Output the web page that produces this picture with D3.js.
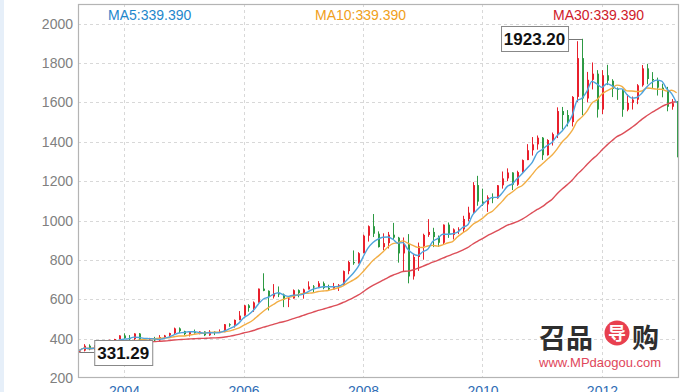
<!DOCTYPE html>
<html><head><meta charset="utf-8">
<script src="https://cdn.jsdelivr.net/npm/d3@7/dist/d3.min.js"></script>
<style>html,body{margin:0;padding:0;background:#fff;overflow:hidden}svg{display:block}</style>
</head><body>
<script>
// Monthly gold candles, Apr 2003 .. Apr 2013
const startMonth = "2003-04";
const opens = [336,339.4,364,346,354,375,384,386,398,
416,402,397,426,388,394,396,391,408,416,428,452,
438,423,435,428,436,417,435,430,433,473,470,495,
517,569,556,584,654,643,614,632,624,599,604,646,
632,650,665,663,681,657,650,666,673,743,789,783,
834,923,971,933,865,885,928,913,833,880,716,815,
869,927,942,916,887,979,927,955,955,1008,1040,1180,
1096,1082,1118,1113,1179,1214,1244,1182,1246,1307,1357,1387,
1421,1332,1409,1439,1556,1536,1500,1628,1825,1620,1715,1746,
1564,1738,1710,1669,1664,1563,1598,1614,1687,1773,1719,1712,
1675,1663,1578,1596];
const highs = [341,372,371,367,378,391,395,399,417,
427,418,427,428,396,404,409,418,419,430,456,457,
440,438,446,437,437,443,437,447,474,478,497,540,
571,575,589,654,732,645,677,665,629,608,650,650,
654,691,672,692,690,674,683,677,746,795,848,839,
928,975,1033,945,935,942,988,917,914,931,829,888,
933,1007,963,924,980,990,960,966,1024,1070,1195,1227,
1162,1128,1138,1180,1249,1265,1245,1253,1310,1388,1424,1432,
1424,1413,1447,1575,1577,1561,1632,1911,1923.2,1755,1803,1764,
1764,1791,1718,1676,1667,1641,1630,1693,1790,1796,1754,1726,
1695,1679,1617,1607];
const lows = [331.29,335,341,342,345,368,367,378,396,
399,391,391,382,371,385,385,387,398,411,423,428,
418,411,425,422,413,414,418,430,433,460,456,493,
516,537,536,583,641,543,604,611,560,560,604,610,
603,650,636,662,651,642,650,642,672,727,775,781,
834,893,916,863,850,858,903,786,740,681,700,744,
801,917,865,866,880,912,904,931,937,996,1033,1075,
1074,1044,1088,1111,1162,1200,1155,1176,1243,1307,1330,1360,
1308,1330,1381,1419,1462,1478,1478,1602,1535,1600,1666,1523,
1541,1688,1627,1613,1527,1555,1564,1591,1680,1692,1672,1635,
1626,1555,1563,1321];
const closes = [339.39,364,346,354,375,384,386,398,416,
402,397,426,388,394,396,391,408,416,428,452,438,
423,435,428,436,417,435,430,433,473,470,495,517,
569,556,584,654,643,614,632,624,599,604,646,632,
650,665,663,681,657,650,666,673,743,789,783,834,
923,971,933,865,885,928,913,833,880,716,815,869,
927,942,916,887,979,927,955,955,1008,1040,1180,1096,
1082,1118,1113,1179,1214,1244,1182,1246,1307,1357,1387,1421,
1332,1409,1439,1556,1536,1500,1628,1825,1620,1715,1746,1564,
1738,1710,1669,1664,1563,1598,1614,1687,1773,1719,1712,1675,
1663,1578,1596,1472];
const yTicks = [200,400,600,800,1000,1200,1400,1600,1800,2000];
const xTickLabels = ["2004","2006","2008","2010","2012"];
const maPeriods = [5,10,30];
const maNames = ["MA5","MA10","MA30"];
const maxLabel = "1923.20", minLabel = "331.29";

const W=686,H=392, L=78, T=4, R=679, B=378;
const n = closes.length;
const parse = d3.timeParse("%Y-%m");
const months = d3.range(n).map(i => d3.timeMonth.offset(parse(startMonth), i));
const x = d3.scaleLinear().domain([-0.25, 120.48]).range([L, R]);
const y = d3.scaleLinear().domain([200, 2100]).range([B, T]);

const svg = d3.select("body").append("svg").attr("width",W).attr("height",H);
svg.append("rect").attr("x",0).attr("y",0).attr("width",4).attr("height",H).attr("fill","#e6eff9");

// grid
const g = svg.append("g");
g.selectAll(".hg").data(yTicks.filter(v=>v>200)).join("line")
  .attr("x1",L).attr("x2",R).attr("y1",d=>Math.round(y(d))+0.5).attr("y2",d=>Math.round(y(d))+0.5)
  .attr("stroke","#d8d8d8").attr("stroke-dasharray","3,3");
const xTickIdx = xTickLabels.map(lbl => months.findIndex(m => m.getFullYear()==+lbl && m.getMonth()==0));
g.selectAll(".vg").data(xTickIdx).join("line")
  .attr("x1",d=>Math.round(x(d))+0.5).attr("x2",d=>Math.round(x(d))+0.5).attr("y1",T).attr("y2",B)
  .attr("stroke","#d8d8d8").attr("stroke-dasharray","3,3");

// axes
const yAxis = d3.axisLeft(y).tickValues(yTicks).tickFormat(d3.format("d")).tickSize(0).tickPadding(5);
const ya = svg.append("g").attr("transform",`translate(${L},0)`).call(yAxis);
ya.select(".domain").remove();
ya.selectAll("text").attr("fill","#808080").style("font","14px 'Liberation Sans', Arial, sans-serif");
const xAxis = d3.axisBottom(x).tickValues(xTickIdx).tickFormat((d,i)=>xTickLabels[i]).tickSize(0).tickPadding(6);
const xa = svg.append("g").attr("transform",`translate(0,${B})`).call(xAxis);
xa.select(".domain").remove();
xa.selectAll("text").attr("fill","#2f6db5").attr("dy","0.85em").style("font","14px 'Liberation Sans', Arial, sans-serif");

// watermark
const wm = svg.append("g");
wm.append("text").attr("x",539).attr("y",348).text("召品").attr("fill","#2e2e2e")
  .style("font","bold 27px 'Noto Sans CJK SC'");
wm.append("circle").attr("cx",617).attr("cy",333).attr("r",12.5).attr("fill","#e8404f");
wm.append("text").attr("x",617).attr("y",340).attr("text-anchor","middle").text("导").attr("fill","#fff")
  .style("font","bold 18px 'Noto Sans CJK SC'");
wm.append("text").attr("x",632).attr("y",348).text("购").attr("fill","#2e2e2e")
  .style("font","bold 27px 'Noto Sans CJK SC'");
wm.append("text").attr("x",539).attr("y",367).text("www.MPdaogou.com").attr("fill","#e0465a")
  .style("font","13px 'Liberation Sans', Arial, sans-serif");

// moving averages
const maColors = ["#4fa3dc","#f2ae45","#dc4e58"];
const maData = maPeriods.map(p => closes.map((c,i)=> d3.mean(closes.slice(Math.max(0,i-p+1), i+1))));
const line = d3.line().x((d,i)=>x(i)).y(d=>y(d)).curve(d3.curveMonotoneX);

// candles
const cg = svg.append("g");
d3.range(n).forEach(i=>{
  const up = closes[i] >= opens[i];
  const col = up ? "#e8202c" : "#2d9a43";
  const cx = Math.round(x(i));
  cg.append("line").attr("x1",cx+0.5).attr("x2",cx+0.5).attr("y1",y(highs[i])).attr("y2",y(lows[i]))
    .attr("stroke",col).attr("stroke-width",1);
  const y0 = y(Math.max(opens[i],closes[i])), y1 = y(Math.min(opens[i],closes[i]));
  cg.append("rect").attr("x",cx).attr("width",2).attr("y",y0).attr("height",Math.max(1,y1-y0)).attr("fill",col);
});

[2,1,0].forEach(k=>{
  svg.append("path").datum(maData[k]).attr("d",line).attr("fill","none")
    .attr("stroke",maColors[k]).attr("stroke-width",1.4);
});

// frame
svg.append("rect").attr("x",L+0.5).attr("y",T+0.5).attr("width",R-L-1).attr("height",B-T-1)
  .attr("fill","none").attr("stroke","#b4b4b4").attr("stroke-width",1.2);

// MA labels
const maLabelX = [108,315,553];
const maTextColors = ["#1f87cc","#f0a020","#d0202a"];
maNames.forEach((nm,k)=>{
  svg.append("text").attr("x",maLabelX[k]).attr("y",20).text(nm+":"+closes[0].toFixed(3))
    .attr("fill",maTextColors[k]).style("font","14px 'Liberation Sans', Arial, sans-serif");
});

// annotations
const iMax = d3.maxIndex(highs), iMin = d3.minIndex(lows);
const ym = y(highs[iMax]);
svg.append("line").attr("x1",x(iMax)).attr("x2",x(iMax)-14).attr("y1",Math.round(ym)+0.5).attr("y2",Math.round(ym)+0.5).attr("stroke","#777");
svg.append("rect").attr("x",x(iMax)-14-67+0.5).attr("y",Math.round(ym)-12.5).attr("width",67).attr("height",25)
  .attr("fill","#fff").attr("stroke","#888");
svg.append("text").attr("x",x(iMax)-14-33.5).attr("y",ym+6).attr("text-anchor","middle").text(maxLabel)
  .style("font","bold 17px 'Liberation Sans', Arial, sans-serif").attr("fill","#111");
const yn = y(lows[iMin]);
svg.append("line").attr("x1",x(iMin)).attr("x2",x(iMin)+15).attr("y1",Math.round(yn)+0.5).attr("y2",Math.round(yn)+0.5).attr("stroke","#777");
svg.append("rect").attr("x",x(iMin)+15+0.5).attr("y",Math.round(yn)-11.5).attr("width",58).attr("height",25)
  .attr("fill","#fff").attr("stroke","#888");
svg.append("text").attr("x",x(iMin)+15+29).attr("y",yn+7).attr("text-anchor","middle").text(minLabel)
  .style("font","bold 17px 'Liberation Sans', Arial, sans-serif").attr("fill","#111");
</script>
</body></html>
